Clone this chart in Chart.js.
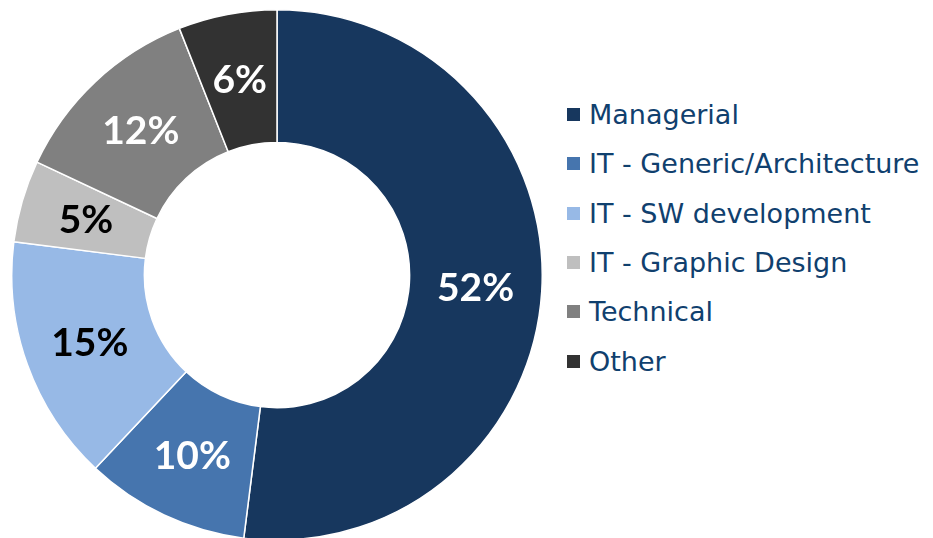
<!DOCTYPE html>
<html>
<head>
<meta charset="utf-8">
<script src="https://cdn.jsdelivr.net/npm/chart.js"></script>
<style>
    html, body { margin: 0; padding: 0; background: #fff; width: 933px; height: 538px; overflow: hidden; }
    .pie-box { position: absolute; left: 11px; top: 9px; width: 532px; height: 532px; }
    .legend { position: absolute; left: 567px; top: 90px; font-family: 'DejaVu Sans', sans-serif; font-size: 27px; color: #10406e; }
    .legend-row { height: 49.3px; display: flex; align-items: center; white-space: nowrap; }
    .legend-box { width: 13px; height: 13px; margin-right: 9px; flex: none; }
</style>
</head>
<body>
<div class="pie-box"><canvas id="skillsChart" width="532" height="532"></canvas></div>
<div class="legend" id="legend"></div>

<script>
// --- DATA ---
const categories = ['Managerial', 'IT - Generic/Architecture', 'IT - SW development', 'IT - Graphic Design', 'Technical', 'Other'];
const shares = [52, 10, 15, 5, 12, 6];
const sliceColors = ['#17375e', '#4675ae', '#97b9e6', '#bfbfbf', '#808080', '#323232'];
const labelColors = ['#ffffff', '#ffffff', '#000000', '#000000', '#ffffff', '#ffffff'];

// draws the % text in the middle of each slice
const sliceLabels = {
    id: 'sliceLabels',
    afterDatasetsDraw(chart) {
        const ctx = chart.ctx;
        const meta = chart.getDatasetMeta(0);
        ctx.save();
        ctx.font = 'bold 39px Lato, sans-serif';
        ctx.textAlign = 'center';
        ctx.textBaseline = 'middle';
        meta.data.forEach((arc, i) => {
            const p = arc.getCenterPoint();
            ctx.fillStyle = labelColors[i];
            ctx.fillText(shares[i] + '%', p.x, p.y + 1);
        });
        ctx.restore();
    }
};

const chart = new Chart(document.getElementById('skillsChart'), {
    type: 'doughnut',
    data: {
        labels: categories,
        datasets: [{
            data: shares,
            backgroundColor: sliceColors,
            borderColor: '#ffffff',
            borderWidth: 1.5
        }]
    },
    options: {
        responsive: false,
        animation: false,
        cutout: '50%',
        layout: { padding: 0 },
        plugins: { legend: { display: false }, tooltip: { enabled: false } }
    },
    plugins: [sliceLabels]
});

// legend built from the chart's own labels
const legendEl = document.getElementById('legend');
chart.data.labels.forEach((name, i) => {
    const row = document.createElement('div');
    row.className = 'legend-row';
    row.innerHTML = `<span class="legend-box" style="background:${sliceColors[i]}"></span><span>${name}</span>`;
    legendEl.appendChild(row);
});
</script>
</body>
</html>
